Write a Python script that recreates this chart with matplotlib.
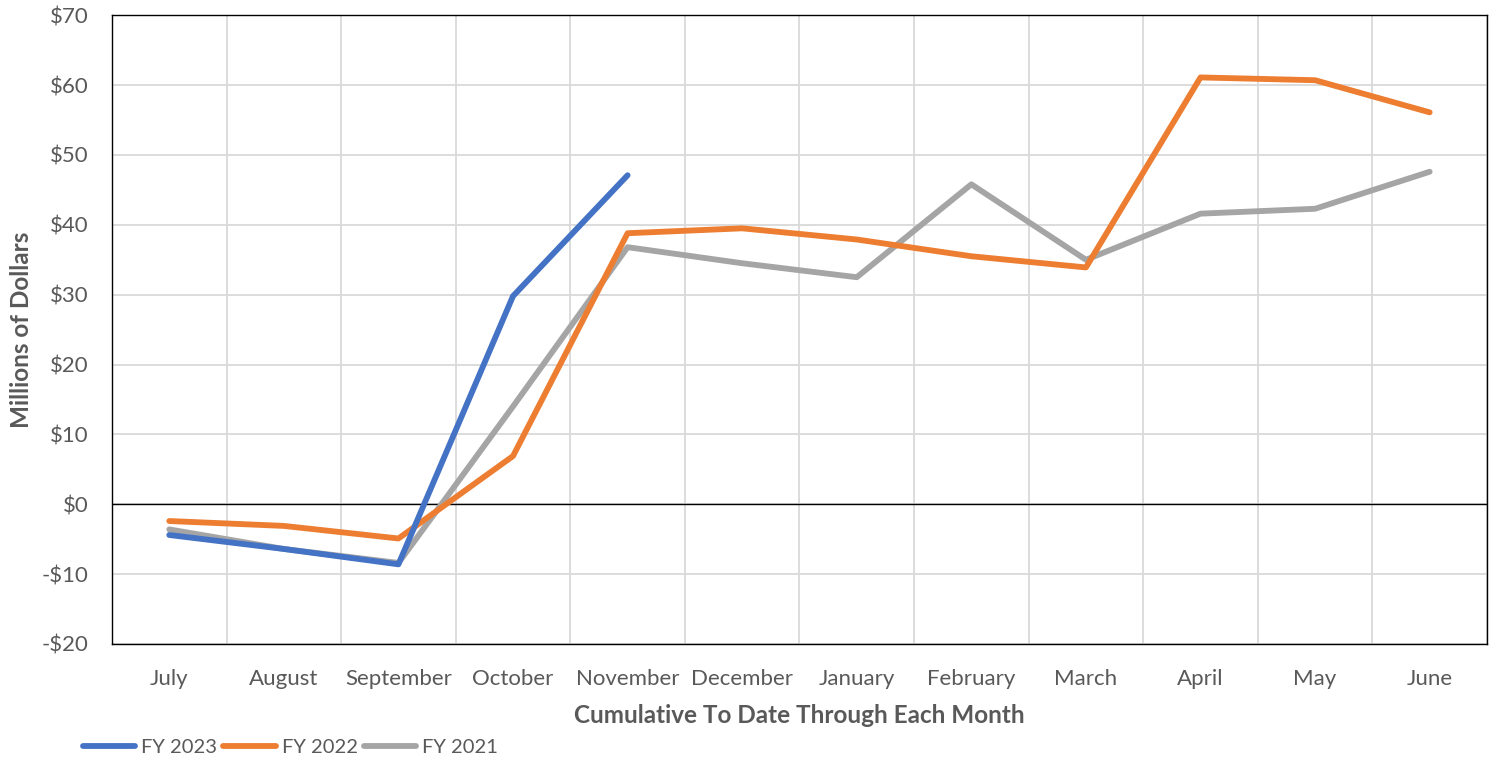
import matplotlib.pyplot as plt
from matplotlib.ticker import FuncFormatter, MultipleLocator

months = ['July', 'August', 'September', 'October', 'November', 'December',
          'January', 'February', 'March', 'April', 'May', 'June']

fy2023 = [-4.4, -6.4, -8.6, 29.8, 47.1]
fy2022 = [-2.4, -3.1, -4.9, 6.9, 38.8, 39.5, 37.9, 35.5, 33.9, 61.1, 60.7, 56.1]
fy2021 = [-3.6, -6.4, -8.4, 14.0, 36.8, 34.5, 32.5, 45.8, 35.0, 41.6, 42.3, 47.6]

plt.rcParams['font.family'] = ['Lato', 'DejaVu Sans']

fig = plt.figure(figsize=(14.97, 7.63), dpi=100)
ax = fig.add_axes([0.0748, 0.156, 0.9185, 0.824])

style = dict(lw=4.2, solid_capstyle='round', solid_joinstyle='round')
ax.plot(range(len(fy2023)), fy2023, color='#4472C4', label='FY 2023', zorder=5, **style)
ax.plot(range(len(fy2022)), fy2022, color='#ED7D31', label='FY 2022', zorder=4, **style)
ax.plot(range(len(fy2021)), fy2021, color='#A5A5A5', label='FY 2021', zorder=3, **style)

ax.axhline(0, color='black', lw=1, zorder=2)

ax.set_xlim(-0.5, 11.5)
ax.set_ylim(-20, 70)
ax.set_xticks(range(12))
ax.set_xticklabels(months)
ax.xaxis.set_minor_locator(MultipleLocator(1, offset=0.5))
ax.yaxis.set_major_locator(MultipleLocator(10))
ax.yaxis.set_major_formatter(FuncFormatter(lambda v, p: f"${v:.0f}" if v >= 0 else f"-${abs(v):.0f}"))

ax.grid(True, axis='y', which='major', color='#d9d9d9', lw=1.3)
ax.grid(True, axis='x', which='minor', color='#d9d9d9', lw=1.3)
ax.set_axisbelow(True)
ax.tick_params(axis='both', which='both', length=0, labelsize=16, labelcolor='#595959')
ax.tick_params(axis='x', pad=18)
ax.tick_params(axis='y', pad=17)
for s in ax.spines.values():
    s.set_color('black')
    s.set_linewidth(1)

ax.set_ylabel('Millions of Dollars', fontsize=17.5, fontweight='bold', color='#595959', labelpad=6)
ax.set_xlabel('Cumulative To Date Through Each Month', fontsize=17.5, fontweight='bold',
              color='#595959', labelpad=11)

fig.legend(loc='center left', bbox_to_anchor=(0.05, 0.02), ncol=3, frameon=False,
           fontsize=14.5, labelcolor='#595959', handlelength=2.6, handletextpad=0.3,
           columnspacing=0.3, borderaxespad=0)

plt.savefig('out.png', dpi=100)
